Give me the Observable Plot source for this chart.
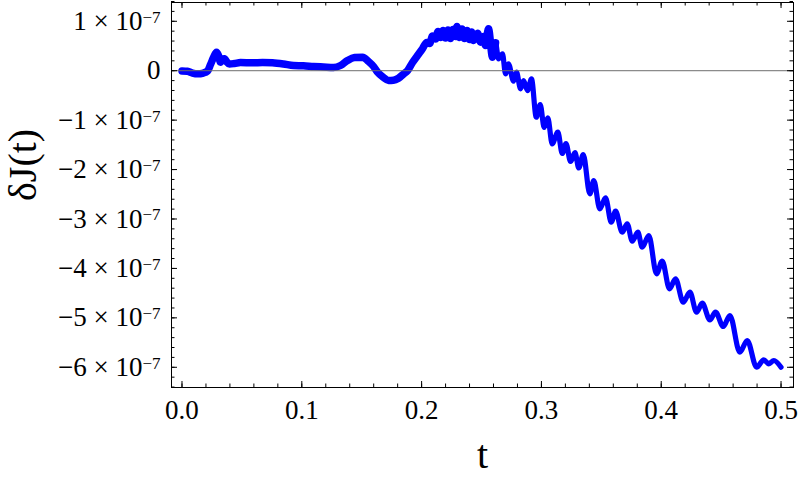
<!DOCTYPE html>
<html><head><meta charset="utf-8">
<script src="https://cdn.jsdelivr.net/npm/d3@7"></script>
<script src="https://cdn.jsdelivr.net/npm/@observablehq/plot@0.6"></script>
<style>
html,body{margin:0;padding:0;background:#fff}
#chart svg{display:block}
</style>
</head><body><div id="chart"></div>
<script>
// time t
const tValues = [
  0.0000,0.0046,0.0088,0.0129,0.0179,0.0213,0.0238,0.0263,0.0288,0.0305,
  0.0321,0.0338,0.0355,0.0371,0.0396,0.0438,0.0488,0.0589,0.0672,0.0755,
  0.0847,0.0931,0.1014,0.1098,0.1181,0.1265,0.1323,0.1381,0.1440,0.1507,
  0.1557,0.1599,0.1632,0.1682,0.1724,0.1765,0.1807,0.1849,0.1883,0.1924,
  0.1966,0.2008,0.2042,0.2067,0.2091,0.2116,0.2137,0.2158,0.2179,0.2200,
  0.2220,0.2241,0.2262,0.2283,0.2295,0.2316,0.2337,0.2358,0.2379,0.2400,
  0.2417,0.2434,0.2467,0.2492,0.2517,0.2533,0.2558,0.2592,0.2617,0.2642,
  0.2675,0.2700,0.2725,0.2767,0.2792,0.2826,0.2851,0.2884,0.2917,0.2957,
  0.2990,0.3023,0.3053,0.3090,0.3137,0.3174,0.3205,0.3243,0.3280,0.3312,0.3349,
  0.3404,0.3437,0.3487,0.3535,0.3583,0.3619,0.3674,0.3716,0.3758,0.3805,
  0.3841,0.3896,0.3961,0.4008,0.4069,0.4119,0.4184,0.4239,0.4295,0.4342,
  0.4406,0.4453,0.4518,0.4573,0.4656,0.4718,0.4796,0.4856,0.4898,0.4940,
  0.5000
];
// δJ(t) in units of 1e-7
const dJ_e7 = [
  -0.006,-0.012,-0.047,-0.063,-0.047,-0.006,0.125,0.267,0.374,0.308,
  0.172,0.237,0.241,0.186,0.136,0.146,0.166,0.160,0.166,0.160,
  0.136,0.105,0.099,0.085,0.075,0.065,0.105,0.206,0.267,0.273,
  0.186,0.085,-0.030,-0.138,-0.198,-0.194,-0.152,-0.067,0.004,0.166,
  0.308,0.449,0.571,0.550,0.702,0.641,0.793,0.672,0.813,0.662,
  0.823,0.651,0.833,0.692,0.894,0.672,0.844,0.651,0.813,0.631,
  0.783,0.611,0.759,0.577,0.692,0.510,0.848,0.273,0.564,0.241,
  0.342,-0.063,0.140,-0.212,-0.030,-0.366,-0.198,-0.401,-0.164,-0.941,
  -0.684,-1.149,-0.953,-1.479,-1.244,-1.675,-1.473,-1.837,-1.659,-1.968,-1.695,
  -2.490,-2.221,-2.794,-2.571,-3.065,-2.842,-3.267,-3.097,-3.449,-3.267,
  -3.571,-3.334,-4.109,-3.850,-4.412,-4.210,-4.683,-4.481,-4.886,-4.704,
  -5.039,-4.886,-5.175,-4.952,-5.695,-5.458,-5.998,-5.849,-5.930,-5.863,
  -5.998
];
const xTickLabels = [0, 0.1, 0.2, 0.3, 0.4, 0.5];
const yTickLabels = [1, 0, -1, -2, -3, -4, -5, -6];
const xMinorTicks = d3.range(0, 0.5001, 0.02);
const yMinorTicks = d3.range(-6.4, 1.4001, 0.2).map(v => Math.round(v * 10) / 10);
const xLabel = "t";
const yLabel = "δJ(t)";
const denseBandEnd = 0.262; // region where fast jitter thickens the curve

const data = tValues.map((t, i) => ({t, v: dJ_e7[i]}));

const W = 800, H = 482;
const mL = 171, mR = 7, mT = 2, mB = 95;
const fw = W - mL - mR, fh = H - mT - mB;
const MAJ = 6, MIN = 3.5;
const TICK_FONT = 27;

const fmtY = d => d === 0 ? "0" : `${d < 0 ? "\u2212" : ""}${Math.abs(d)} × 10|\u22127`;

const plot = Plot.plot({
  width: W, height: H,
  marginLeft: mL, marginRight: mR, marginTop: mT, marginBottom: mB,
  style: {fontFamily: "'Liberation Serif', 'Times New Roman', serif", fontSize: TICK_FONT + "px", background: "#fff", color: "#000"},
  x: {domain: [-0.00876, 0.5104]},
  y: {domain: [-6.409, 1.380]},
  marks: [
    Plot.line(data.filter(d => d.t <= denseBandEnd), {x: "t", y: "v", stroke: "#0000ff", strokeWidth: 7.5, curve: "monotone-x", strokeLinejoin: "round", strokeLinecap: "round"}),
    Plot.line(data, {x: "t", y: "v", stroke: "#0000ff", strokeWidth: 5.2, curve: "monotone-x", strokeLinejoin: "round", strokeLinecap: "round"}),
    Plot.ruleY([0], {stroke: "#6e6e6e", strokeWidth: 1}),
    Plot.frame({stroke: "#000", strokeWidth: 1}),
    // bottom & top ticks
    Plot.tickX(xMinorTicks, {x: d => d, insetTop: fh - MIN, stroke: "#000"}),
    Plot.tickX(xTickLabels, {x: d => d, insetTop: fh - MAJ, stroke: "#000"}),
    Plot.tickX(xMinorTicks, {x: d => d, insetBottom: fh - MIN, stroke: "#000"}),
    Plot.tickX(xTickLabels, {x: d => d, insetBottom: fh - MAJ, stroke: "#000"}),
    // left & right ticks
    Plot.tickY(yMinorTicks, {y: d => d, insetRight: fw - MIN, stroke: "#000"}),
    Plot.tickY(yTickLabels, {y: d => d, insetRight: fw - MAJ, stroke: "#000"}),
    Plot.tickY(yMinorTicks, {y: d => d, insetLeft: fw - MIN, stroke: "#000"}),
    Plot.tickY(yTickLabels, {y: d => d, insetLeft: fw - MAJ, stroke: "#000"}),
    Plot.axisX({ticks: xTickLabels, tickSize: 0, tickPadding: 12, tickFormat: d3.format(".1f"), label: null}),
    Plot.axisY({ticks: yTickLabels, tickSize: 0, tickPadding: 11, tickFormat: fmtY, label: null}),
    Plot.text([xLabel], {frameAnchor: "bottom", dy: 80, fontSize: 40}),
    Plot.text([yLabel], {frameAnchor: "left", dx: -148, dy: 6, rotate: -90, fontSize: 40})
  ]
});

// force tick-label font size
d3.select(plot).selectAll('g[aria-label="x-axis tick label"], g[aria-label="y-axis tick label"]')
  .attr("font-size", TICK_FONT).style("font-size", TICK_FONT + "px");

// superscript exponents on y tick labels
d3.select(plot).selectAll('g[aria-label="y-axis tick label"] text').each(function () {
  const s = this.textContent;
  if (s.includes("|")) {
    const [a, b] = s.split("|");
    const el = d3.select(this);
    el.text(null);
    el.append("tspan").text(a);
    el.append("tspan").attr("dy", "-0.42em").style("font-size", "17px").text(b);
  }
});

document.getElementById("chart").appendChild(plot);
</script>
</body></html>
